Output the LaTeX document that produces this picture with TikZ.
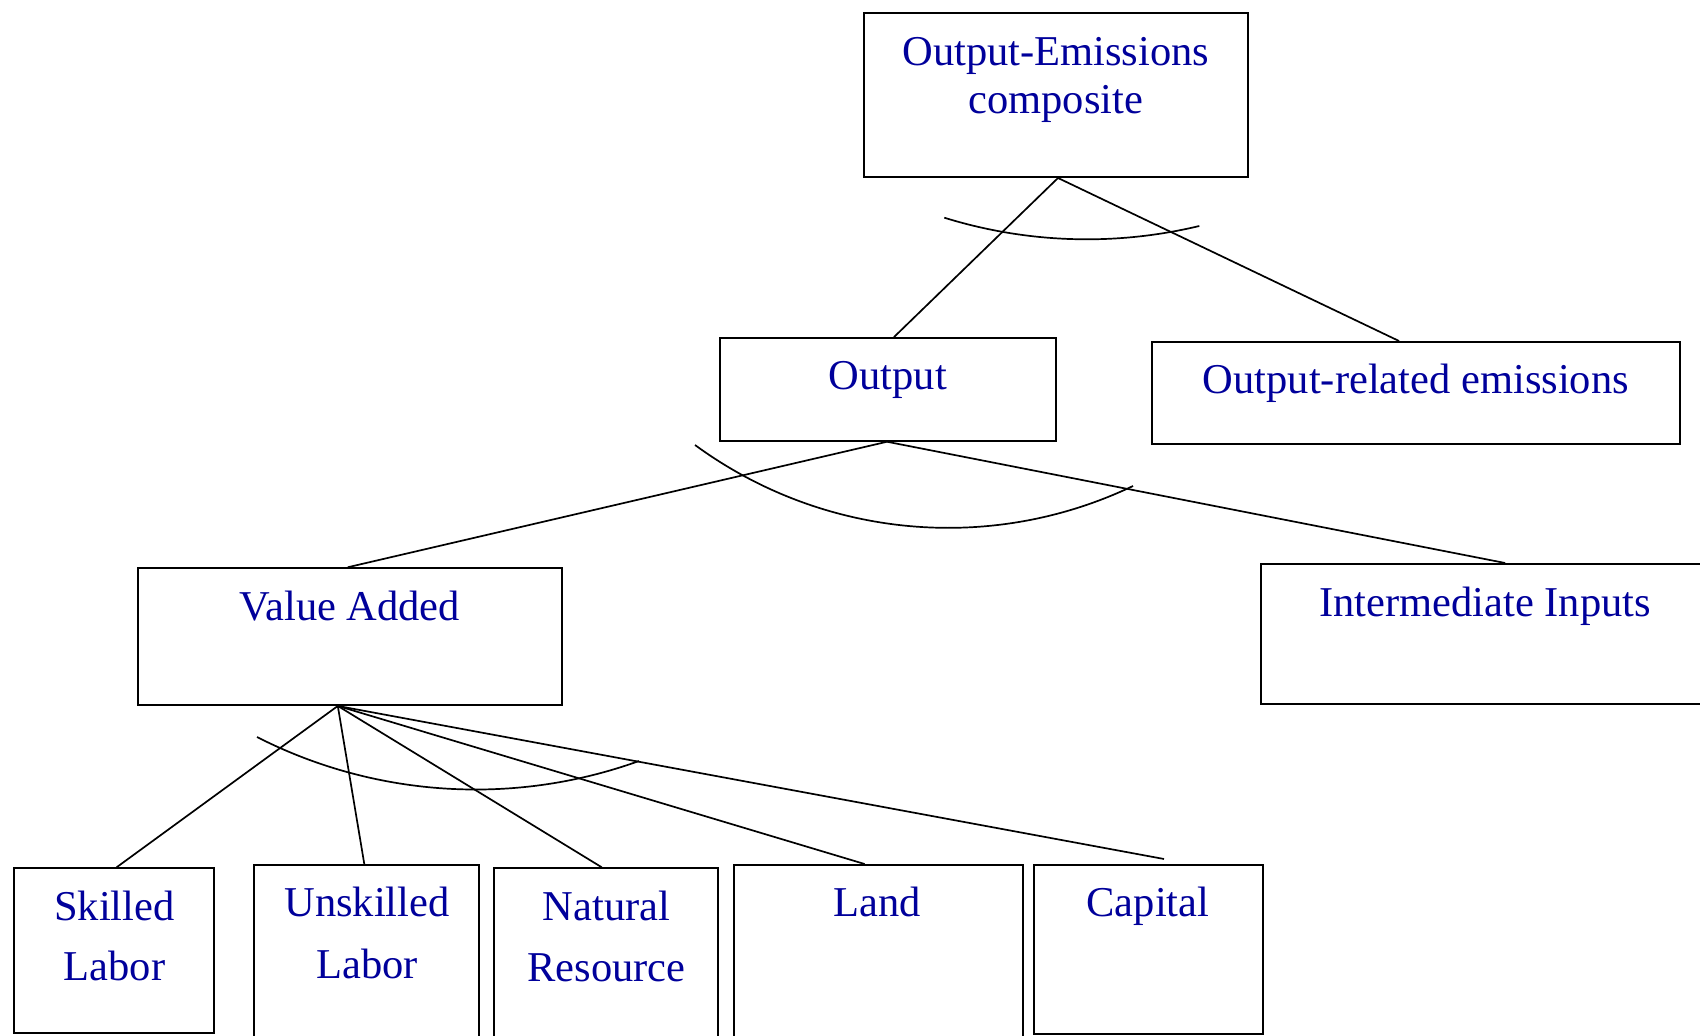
\documentclass[tikz,border=0pt]{standalone}
\usepackage{fontspec}
\setmainfont{Liberation Serif}
\usetikzlibrary{calc}
\definecolor{txtblue}{RGB}{0,0,155}
\begin{document}
\begin{tikzpicture}[x=0.5pt,y=-0.5pt,
  box/.style={draw=black, line width=1pt, inner sep=0pt, rectangle},
  lbl/.style={text=txtblue, font=\fontsize{21.25}{25}\selectfont, inner sep=0pt, anchor=base},
  conn/.style={draw=black, line width=0.85pt},
  arcline/.style={draw=black, line width=0.85pt}]
\clip (0,0) rectangle (1700,1036);
\fill[white] (0,0) rectangle (1700,1036);

% boxes
\node[box, minimum width=192pt, minimum height=82pt] (top) at (1056,95) {};
\node[box, minimum width=168pt, minimum height=51.35pt] (out) at (888,389.4) {};
\node[box, minimum width=264pt, minimum height=51.2pt] (ore) at (1415.5,393.2) {};
\node[box, minimum width=212.2pt, minimum height=68.35pt] (va) at (349.8,636.6) {};
\node[box, minimum width=222.2pt, minimum height=70pt] (ii) at (1483,634) {};
\node[box, minimum width=99.8pt, minimum height=82.35pt] (sk) at (114,950.65) {};
\node[box, minimum width=112.5pt, minimum height=90pt] (un) at (366.5,955) {};
\node[box, minimum width=112.15pt, minimum height=88.35pt] (nr) at (606.15,956.65) {};
\node[box, minimum width=144.3pt, minimum height=90pt] (ld) at (878.6,955) {};
\node[box, minimum width=114.3pt, minimum height=84.5pt] (cp) at (1148.6,949.5) {};

% labels
\node[lbl] (topA) at (1055.8,65.5) {Output-Emissions};
\node[lbl] (topB) at (1055.8,114) {composite};
\node[lbl] (outT) at (888,390) {Output};
\node[lbl] (oreT) at (1415.9,393.3) {Output-related emissions};
\node[lbl] (vaT) at (349.7,620.7) {Value Added};
\node[lbl] (iiT) at (1485,616.7) {Intermediate Inputs};
\node[lbl] (skA) at (114.4,920.7) {Skilled};
\node[lbl] (skB) at (114.4,980) {Labor};
\node[lbl] (unA) at (367,916.7) {Unskilled};
\node[lbl] (unB) at (367,978.3) {Labor};
\node[lbl] (nrA) at (606.4,920.7) {Natural};
\node[lbl] (nrB) at (606.4,981) {Resource};
\node[lbl] (ldT) at (877,916.7) {Land};
\node[lbl] (cpT) at (1147.9,916.7) {Capital};

% connectors
\coordinate (topApex) at ($(top.south)+(2,0)$);
\coordinate (outApex) at ($(out.south)+(-1,0)$);
\coordinate (vaApex) at ($(va.south)+(-12,0)$);

\draw[conn] (topApex) -- ($(out.north)+(6,0)$);
\draw[conn] (topApex) -- ($(ore.north)+(-16.5,0)$);
\draw[conn] (outApex) -- ($(va.north)+(-2,0)$);
\draw[conn] (outApex) -- ($(ii.north west)+(245.3,0)$);
\draw[conn] (vaApex) -- ($(sk.north)+(2.6,0)$);
\draw[conn] (vaApex) -- ($(un.north)+(-2.2,0)$);
\draw[conn] (vaApex) -- ($(nr.north)+(-4.4,0)$);
\draw[conn] (vaApex) -- ($(ld.north)+(-14,0)$);
\draw[conn] (vaApex) -- ($(cp.north)+(15.4,-5)$);

% elasticity arcs
\draw[arcline] (944.3,217.7) .. controls (1027,243.4) and (1115.1,246.2) .. (1199.3,226);
\draw[arcline] (695,445) .. controls (822.4,538.3) and (990.5,554) .. (1133,486);
\draw[arcline] (257,737) .. controls (375.4,797.4) and (514,806.1) .. (639,761);
\end{tikzpicture}
\end{document}
